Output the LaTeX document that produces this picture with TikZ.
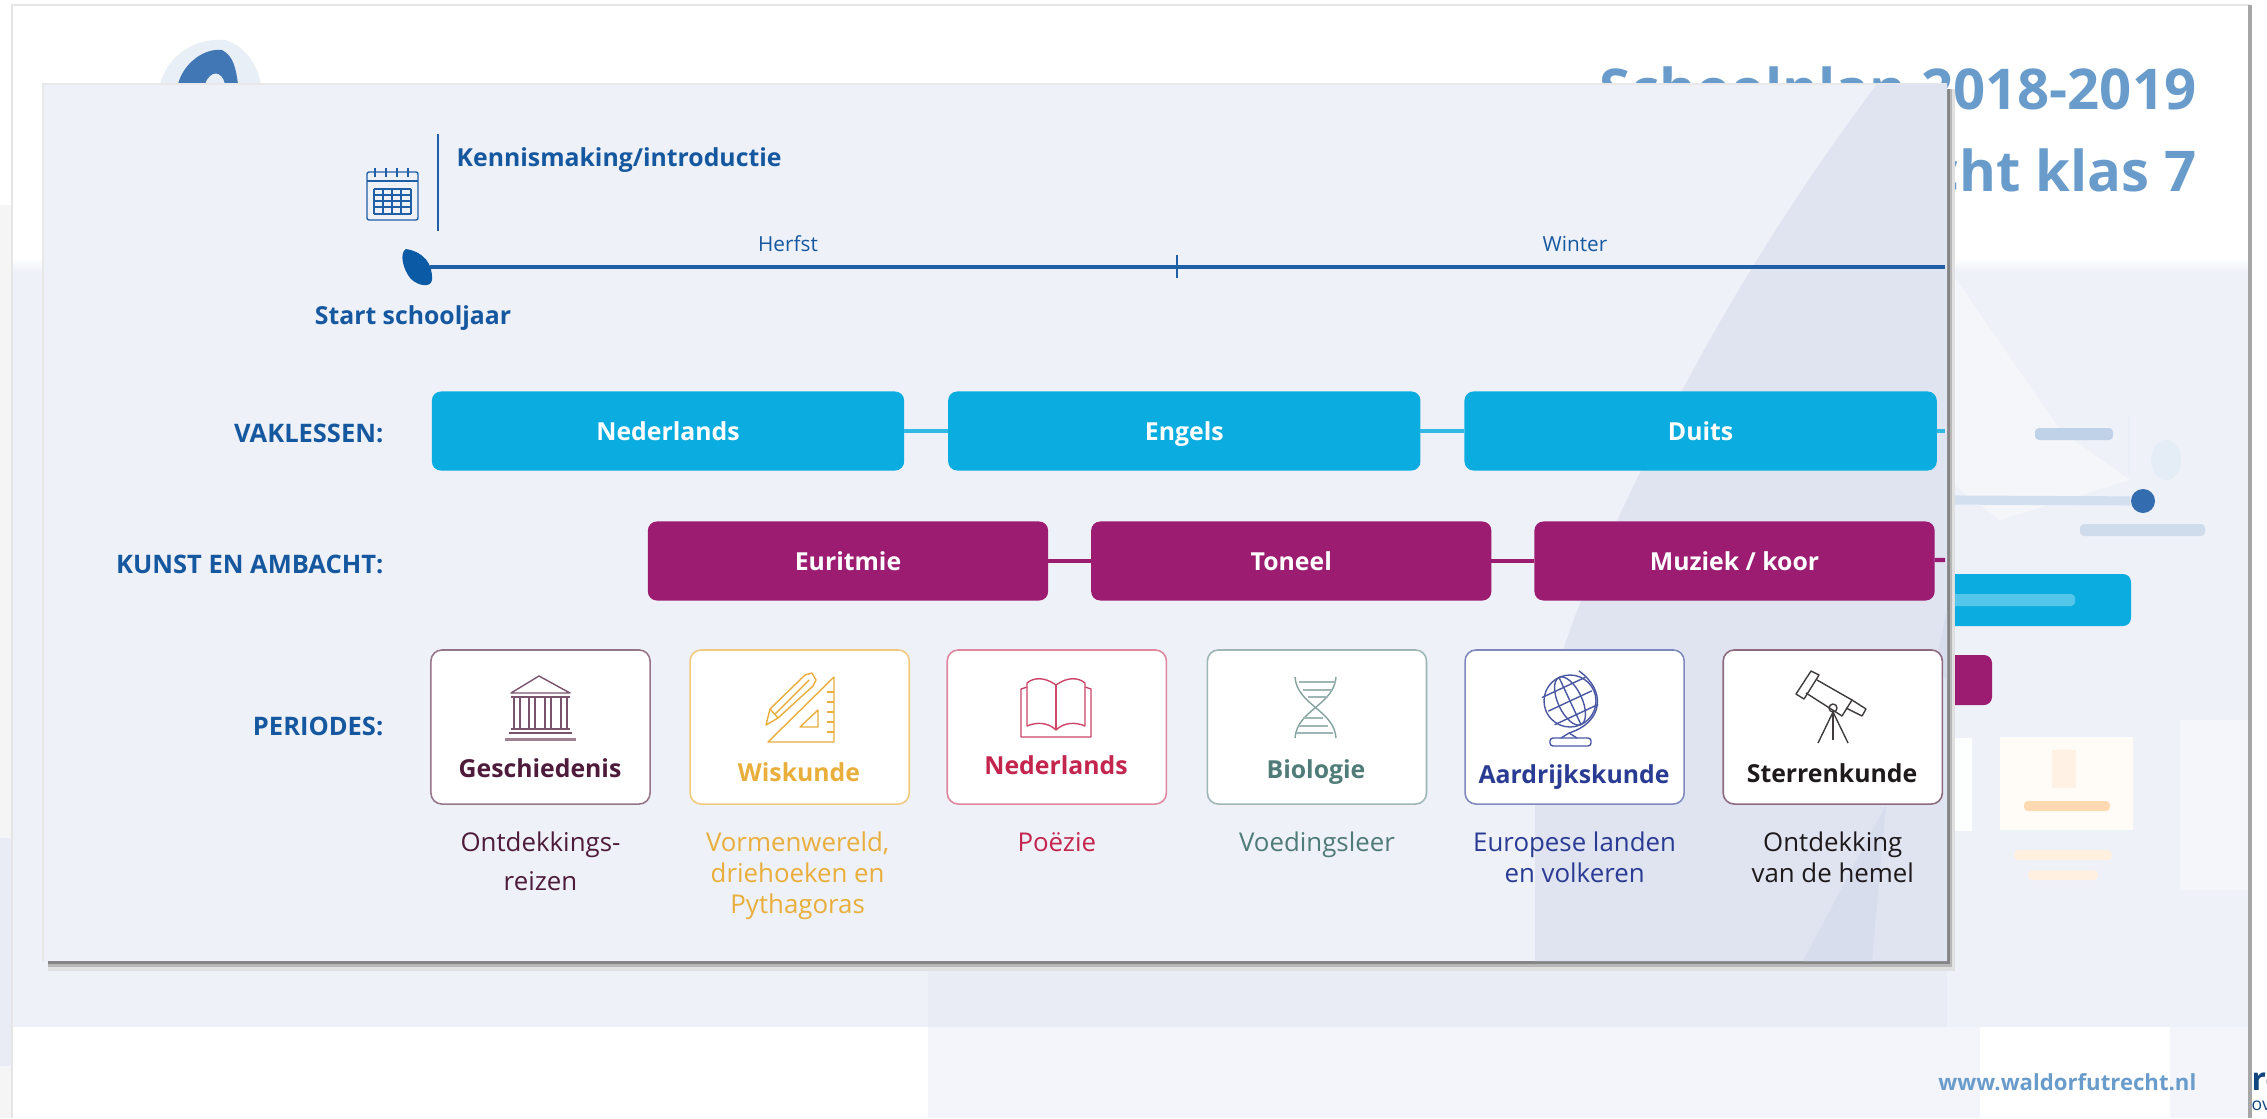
\documentclass[tikz,border=0pt]{standalone}
\usepackage{fontspec}
\setmainfont{Open Sans}
\usetikzlibrary{positioning}
\definecolor{bandcol}{HTML}{EEF1F8}
\definecolor{shapecol}{HTML}{E0E4F0}
\definecolor{shapedark}{HTML}{D8DDEE}
\definecolor{labelblue}{HTML}{15589F}
\definecolor{lineblue}{HTML}{1F5FA8}
\definecolor{leafblue}{HTML}{0B5AA5}
\definecolor{titleblue}{HTML}{6A9CCB}
\definecolor{vakblue}{HTML}{0BADE0}
\definecolor{kunstpurple}{HTML}{9B1C71}
\definecolor{geschcol}{HTML}{4E1B3B}
\definecolor{wiscol}{HTML}{E9AE3C}
\definecolor{nedcol}{HTML}{C4254E}
\definecolor{biocol}{HTML}{4F7B78}
\definecolor{aardcol}{HTML}{2A3B93}
\definecolor{sterrcol}{HTML}{1E1A1C}
\tikzset{
  headtext/.style={text=labelblue,font=\bfseries\fontsize{7.05}{9}\selectfont,inner sep=0pt},
  rowlabel/.style={headtext,anchor=east,font=\bfseries\fontsize{7.25}{9}\selectfont},
  seasontext/.style={text=labelblue,font=\fontsize{5.9}{7}\selectfont,inner sep=0pt},
  vakbox/.style={fill=vakblue,rounded corners=0.09cm,minimum width=4.72cm,minimum height=0.79cm,inner sep=0pt,outer sep=0pt,
    text=white,font=\bfseries\fontsize{7.05}{9}\selectfont,text height=0.74em,text depth=0.2em},
  kunstbox/.style={vakbox,fill=kunstpurple,minimum width=4.00cm},
  periodbox/.style={draw=#1,fill=white,line width=0.45pt,rounded corners=0.11cm,minimum width=2.19cm,minimum height=1.54cm,inner sep=0pt,outer sep=0pt},
  periodtitle/.style={text=#1,font=\bfseries\fontsize{7.05}{9}\selectfont,inner sep=0pt},
  periodsub/.style={text=#1,font=\fontsize{7.35}{8.8}\selectfont,align=center,inner sep=0pt,anchor=north},
  icon/.style={draw=#1,line width=0.4pt,line join=round},
  smear/.style={fill=#1,rounded corners=0.04cm},
}
\begin{document}
\begin{tikzpicture}[x=0.01cm,y=-0.01cm]
\useasboundingbox (0,0) rectangle (2267,1118);
% the page behind the panel
\fill[white] (0,0) rectangle (2267,1118);
\fill[black!4] (0,205) rectangle (12,1118);
\fill[shapecol!70] (0,838) rectangle (12,1066);
\fill[bandcol] (12,270) rectangle (2250,1027);
\shade[top color=white,bottom color=bandcol] (12,258) rectangle (2250,272);
\fill[bandcol!70] (928,1027) rectangle (1980,1118);
\fill[bandcol!70] (2170,1027) rectangle (2250,1118);
\fill[shapecol!70] (928,963) rectangle (1947,1027);
\fill[shapecol!35] (1947,266) -- (2060,430) -- (2130,480) -- (2000,520) -- (1947,480) -- cycle;
\fill[shapecol!35] (2180,720) rectangle (2250,890);
\draw[black!10,line width=0.6pt] (12,1118) -- (12,5) -- (2250,5);
\draw[black!35,line width=1pt] (2250,5) -- (2250,1118);
% blurred things of the page
\fill[lineblue!10] (160,84) .. controls (170,50) and (200,38) .. (225,40) .. controls (250,48) and (258,70) .. (261,84) -- cycle;
\fill[lineblue!85] (178,84) .. controls (184,62) and (205,48) .. (222,50) .. controls (234,56) and (236,70) .. (238,84) -- (225,84) .. controls (222,70) and (210,70) .. (205,84) -- cycle;
\node[anchor=east,inner sep=0pt,text=titleblue,font=\bfseries\fontsize{16}{19}\selectfont] (plantitle) at (2197,95) {Schoolplan 2018-2019};
\node[anchor=east,inner sep=0pt,text=titleblue,font=\bfseries\fontsize{16}{19}\selectfont] (plansub) at (2197,170) {cht klas 7};
\coordinate (blurstart) at (1947,500);
\node[circle,fill=lineblue,minimum size=0.24cm,inner sep=0pt,opacity=0.9] (blurdot) at (2143,501) {};
\draw[lineblue!20,line width=2.6pt] (blurstart) -- (blurdot);
\draw[lineblue!10,line width=0.6pt] (2129,415) -- (2129,475);
\fill[lineblue!12] (2166,460) ellipse[x radius=15,y radius=20];
\fill[smear=lineblue!28] (2035,428) rectangle (2113,440);
\fill[smear=lineblue!22] (2080,524) rectangle (2205,536);
\fill[smear=vakblue,rounded corners=0.08cm] (1930,574) rectangle (2131,626);
\fill[smear=vakblue!70] (1950,594) rectangle (2075,606);
\fill[smear=kunstpurple,rounded corners=0.08cm] (1930,655) rectangle (1992,705);
\fill[white!90!bandcol] (1947,738) rectangle (1972,831);
\fill[white!97!orange] (2000,737) rectangle (2133,830);
\fill[orange!10] (2052,750) rectangle (2076,788);
\fill[smear=orange!30] (2024,801) rectangle (2110,811);
\fill[smear=orange!12] (2014,850) rectangle (2112,860);
\fill[smear=orange!12] (2028,870) rectangle (2098,880);
\node[anchor=east,inner sep=0pt,text=titleblue,font=\bfseries\fontsize{6.3}{8}\selectfont] (weburl) at (2197,1082) {www.waldorfutrecht.nl};
\node[anchor=west,inner sep=0pt,text=labelblue!80!black,font=\bfseries\fontsize{9}{11}\selectfont] (cutoffa) at (2251,1082) {re};
\node[anchor=west,inner sep=0pt,text=labelblue!80!black,font=\fontsize{5}{6}\selectfont] (cutoffb) at (2251,1106) {ove};
% the panel
\fill[black!12] (48,89) rectangle (1955,971);
\fill[black!28] (48,89) rectangle (1952,967);
\fill[black!48] (48,89) rectangle (1950,964);
\fill[bandcol] (43,84) rectangle (1947,961);
\draw[black!9,line width=0.6pt] (43,961) -- (43,84) -- (1947,84);
\fill[shapecol] (1877,84) .. controls (1790,200) and (1700,340) .. (1608,540) .. controls (1565,630) and (1535,720) .. (1535,810) -- (1535,961) -- (1947,961) -- (1947,84) -- cycle;
\fill[shapedark] (1803,961) -- (1886,805) -- (1872,961) -- cycle;
\fill[shapedark] (1947,610) -- (1934,670) -- (1947,680) -- cycle;
% timeline
\coordinate (lineend) at (1945,267);
\coordinate (linestart) at (430,267);
\draw[lineblue,line width=1.15pt] (linestart) -- (lineend);
\draw[lineblue,line width=0.4pt] (1177,255) -- (1177,278);
\fill[leafblue] (406,249) .. controls (424,252) and (433,264) .. (432,280) .. controls (431,288) and (418,286) .. (411,279) .. controls (403,270) and (399,253) .. (406,249) -- cycle;
\draw[lineblue,line width=0.45pt] (438,134) -- (438,231);
% calendar
\draw[icon=lineblue,rounded corners=0.02cm] (367,172) rectangle (418,220);
\draw[icon=lineblue] (367,181) -- (418,181);
\foreach \x in {375,386,397,408} \draw[icon=lineblue] (\x,168) -- (\x,177);
\foreach \x in {374,383,392,401,411} \draw[icon=lineblue] (\x,189) -- (\x,214);
\foreach \y in {189,195,201,207,214} \draw[icon=lineblue] (374,\y) -- (411,\y);
\node[headtext,anchor=west] (kennis) at (456,160) {Kennismaking/introductie};
\node[seasontext] (herfst) at (788,244) {Herfst};
\node[seasontext] (winter) at (1575,244) {Winter};
\node[headtext] (startjaar) at (413,318) {Start schooljaar};
% rows
\node[rowlabel] (vaklessen) at (384,433) {VAKLESSEN:};
\node[rowlabel] (kunstambacht) at (384,564) {KUNST EN AMBACHT:};
\node[rowlabel] (periodes) at (384,726) {PERIODES:};
\node[vakbox] (nederlandsvak) at (668,431) {Nederlands};
\node[vakbox,right=0.44cm of nederlandsvak] (engels) {Engels};
\node[vakbox,right=0.44cm of engels] (duits) {Duits};
\node[kunstbox] (euritmie) at (848,561) {Euritmie};
\node[kunstbox,right=0.43cm of euritmie] (toneel) {Toneel};
\node[kunstbox,right=0.43cm of toneel] (muziek) {Muziek / koor};
\coordinate (vakend) at (1945,431);
\coordinate (kunstend) at (1945,560);
% draw the connections
\draw[vakblue!85!white,line width=1.2pt] (nederlandsvak)--(engels);
\draw[vakblue!85!white,line width=1.2pt] (engels)--(duits);
\draw[vakblue!85!white,line width=1.2pt] (duits)--(vakend);
\draw[kunstpurple,line width=1.2pt] (euritmie)--(toneel);
\draw[kunstpurple,line width=1.2pt] (toneel)--(muziek);
\draw[kunstpurple,line width=1.2pt] (muziek)--(kunstend);
% periods
\node[periodbox=geschcol!60] (geschiedenis) at (540.5,727) {};
\node[periodbox=wiscol!65,right=0.40cm of geschiedenis] (wiskunde) {};
\node[periodbox=nedcol!55,right=0.38cm of wiskunde] (nederlandsper) {};
\node[periodbox=biocol!55,right=0.41cm of nederlandsper] (biologie) {};
\node[periodbox=aardcol!60,right=0.385cm of biologie] (aardrijk) {};
\node[periodbox=geschcol!65,right=0.39cm of aardrijk] (sterren) {};
\node[periodtitle=geschcol] (titlegesch) at (540,768) {Geschiedenis};
\node[periodtitle=wiscol] (titlewis) at (799,772) {Wiskunde};
\node[periodtitle=nedcol] (titlened) at (1056,765) {Nederlands};
\node[periodtitle=biocol] (titlebio) at (1316,772) {Biologie};
\node[periodtitle=aardcol] (titleaard) at (1574,777) {Aardrijkskunde};
\node[periodtitle=sterrcol] (titlesterr) at (1832,773) {Sterrenkunde};
\node[periodsub=geschcol,below=0.275cm of geschiedenis] (subgesch) {Ontdekkings-\\[2.3pt]reizen};
\node[periodsub=wiscol,below=0.275cm of wiskunde,xshift=-0.02cm] (subwis) {Vormenwereld,\\driehoeken en\\Pythagoras};
\node[periodsub=nedcol,below=0.275cm of nederlandsper] (subned) {Poëzie};
\node[periodsub=biocol,below=0.275cm of biologie] (subbio) {Voedingsleer};
\node[periodsub=aardcol,below=0.275cm of aardrijk] (subaard) {Europese landen\\en volkeren};
\node[periodsub=sterrcol,below=0.275cm of sterren] (substerr) {Ontdekking\\van de hemel};
% temple
\draw[icon=geschcol!75] (539,676) -- (511,693) -- (570,693) -- cycle;
\draw[icon=geschcol!75] (511,697) -- (570,697);
\foreach \x in {514,520,529,535,545,551,561,567} \draw[icon=geschcol!75] (\x,697) -- (\x,728);
\draw[icon=geschcol!75] (511,729) -- (570,729);
\draw[icon=geschcol!75] (509,733) -- (572,733);
\draw[geschcol!55,line width=0.9pt] (505,739.5) -- (576,739.5);
% triangle and pencil
\draw[icon=wiscol] (834,677) -- (768,742) -- (834,742) -- cycle;
\draw[icon=wiscol] (818,710) -- (800,727) -- (818,727) -- cycle;
\foreach \y in {692,702,712,722,732} \draw[icon=wiscol] (834,\y) -- (827,\y);
\draw[icon=wiscol] (766,725) -- (770,709) -- (805,675) -- (812,673) -- (816,680) -- (813,686) -- (778,718) -- cycle;
\draw[icon=wiscol] (770,709) -- (778,718);
\draw[icon=wiscol] (775,714) -- (809,680);
% book
\draw[icon=nedcol!85] (1056,685) .. controls (1045,677) and (1034,677) .. (1027,683) -- (1027,726) .. controls (1036,722) and (1048,722) .. (1056,730);
\draw[icon=nedcol!85] (1056,685) .. controls (1067,677) and (1078,677) .. (1085,683) -- (1085,726) .. controls (1076,722) and (1064,722) .. (1056,730);
\draw[icon=nedcol!85] (1056,685) -- (1056,730);
\draw[icon=nedcol!85] (1027,687) -- (1021,689) -- (1021,737) -- (1091,737) -- (1091,689) -- (1085,687);
% dna
\draw[icon=biocol!70] (1295,677) .. controls (1297,705) and (1334,710) .. (1336,738);
\draw[icon=biocol!70] (1336,677) .. controls (1334,705) and (1297,710) .. (1295,738);
\foreach \y/\a/\b in {682/1299/1336,690/1303/1332,697/1308/1328,718/1303/1323,726/1299/1328,733/1296/1333} \draw[icon=biocol!55] (\a,\y) -- (\b,\y);
% globe
\draw[icon=aardcol!85] (1570,701) circle[radius=26];
\draw[icon=aardcol!85,rotate around={25:(1570,701)}] (1570,701) ellipse[x radius=12,y radius=26];
\draw[icon=aardcol!85,rotate around={25:(1570,701)}] (1570,675) -- (1570,727);
\foreach \d in {-15,0,15} \draw[icon=aardcol!85,rotate around={25:(1570,701)}] (1546,701+\d) -- (1594,701+\d);
\draw[icon=aardcol!85] (1579,671) .. controls (1606,690) and (1604,722) .. (1569,733);
\draw[icon=aardcol!85] (1569,733) -- (1561,738);
\draw[icon=aardcol!85] (1569,733) -- (1577,738);
\draw[icon=aardcol!85,rounded corners=0.03cm] (1550,738) rectangle (1591,746);
% telescope
\draw[icon=sterrcol!85] (1811,671) -- (1819,675) -- (1804,699) -- (1796,694) -- cycle;
\draw[icon=sterrcol!85] (1817,680) -- (1852,700) -- (1842,716) -- (1806,693);
\draw[icon=sterrcol!85] (1852,700) -- (1866,709) -- (1862,716) -- (1846,708);
\draw[icon=sterrcol!85] (1833,708) circle[radius=4];
\draw[icon=sterrcol!85] (1833,712) -- (1818,743);
\draw[icon=sterrcol!85] (1833,712) -- (1833,740);
\draw[icon=sterrcol!85] (1833,712) -- (1848,743);
\end{tikzpicture}
\end{document}
